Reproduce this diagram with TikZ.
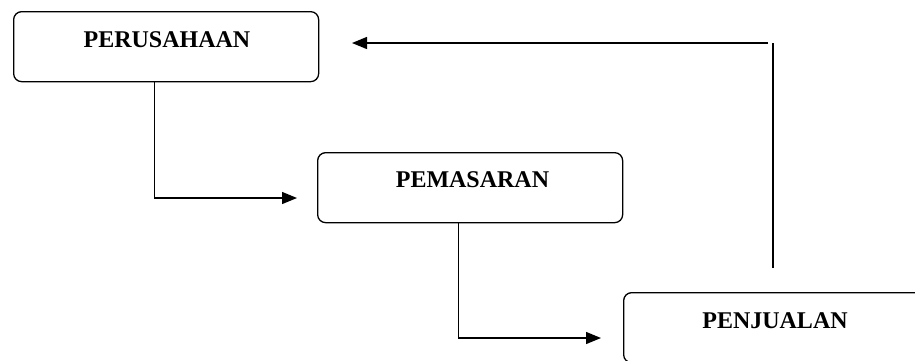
\documentclass[tikz,border=0pt]{standalone}
\usepackage{fontspec}
\setmainfont{Liberation Serif}
\usetikzlibrary{arrows.meta}
\begin{document}
\begin{tikzpicture}[x=1pt,y=-1pt,
  box/.style={draw, line width=1.3pt, rounded corners=8pt, minimum width=305pt, minimum height=70pt, inner sep=0pt, anchor=north west},
  lbl/.style={font=\fontsize{24}{28}\selectfont\bfseries, anchor=base, inner sep=0pt},
  conn/.style={line width=1.3pt},
  arr/.style={conn, -{Triangle[length=15pt,width=12pt]}}]
\useasboundingbox (0,0) rectangle (915,360);
\node[box] (p) at (13,11) {};
\node[box] (m) at (317,152) {};
\node[box] (j) at (623,292) {};
\node[lbl] (pt) at (167,47) {PERUSAHAAN};
\node[lbl] (mt) at (472.5,187) {PEMASARAN};
\node[lbl] (jt) at (775,328) {PENJUALAN};
\coordinate (a1) at (297,198);
\coordinate (a2) at (601,338);
\coordinate (b1) at (773,268);
\coordinate (b2) at (773,43);
\coordinate (b3) at (768,43);
\coordinate (a3) at (352,43);
\draw[arr] ([xshift=-11.5pt]p.south) |- (a1);
\draw[arr] ([xshift=-11.5pt]m.south) |- (a2);
\draw[conn] (b1) -- (b2);
\draw[arr] (b3) -- (a3);
\end{tikzpicture}
\end{document}
